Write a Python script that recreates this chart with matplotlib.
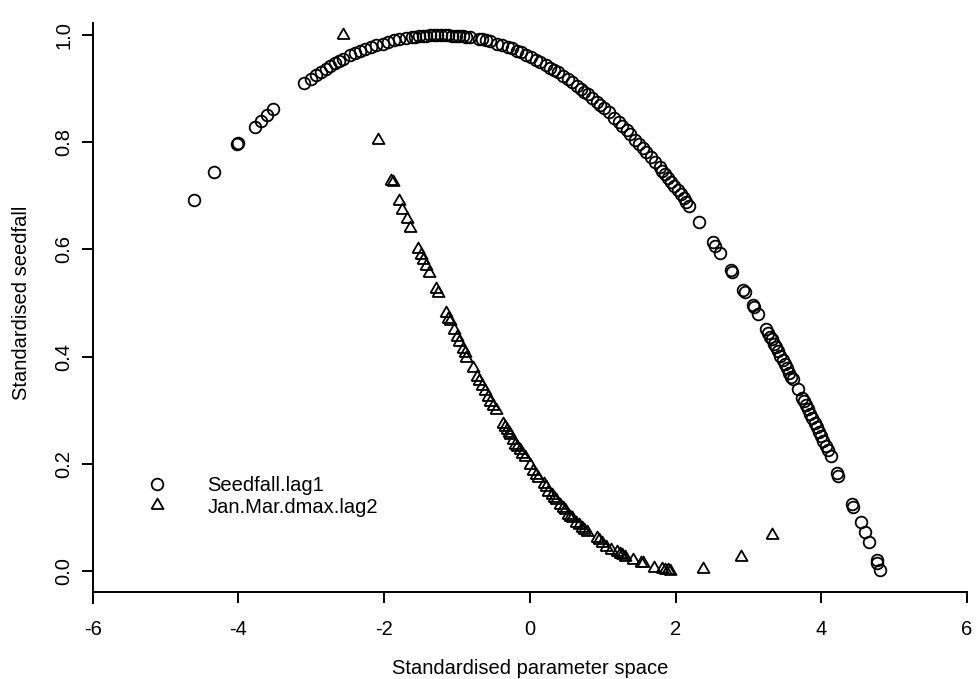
import numpy as np
import matplotlib
matplotlib.use("Agg")
import matplotlib.pyplot as plt

# Seedfall.lag1 (kruhy)
SEED_X = [-4.61, -4.33, -4.02, -4.00, -3.77, -3.69, -3.61, -3.52, -3.10, -3.00,
          -2.93, -2.87, -2.80, -2.74, -2.68, -2.62, -2.56, -2.47, -2.40, -2.33,
          -2.26, -2.18, -2.11, -2.02, -1.94, -1.86, -1.79, -1.70, -1.62, -1.57,
          -1.52, -1.47, -1.42, -1.37, -1.32, -1.27, -1.22, -1.17, -1.12, -1.07,
          -1.02, -0.97, -0.92, -0.87, -0.82, -0.70, -0.65, -0.60, -0.55, -0.45,
          -0.38, -0.30, -0.25, -0.18, -0.12, -0.05, 0.02, 0.08, 0.14, 0.22,
          0.28, 0.33, 0.38, 0.45, 0.52, 0.58, 0.65, 0.70, 0.75, 0.80,
          0.86, 0.92, 0.97, 1.02, 1.08, 1.15, 1.22, 1.27, 1.33, 1.38,
          1.45, 1.50, 1.55, 1.60, 1.66, 1.72, 1.78, 1.82, 1.86, 1.90,
          1.94, 1.98, 2.03, 2.07, 2.11, 2.15, 2.19, 2.32, 2.51, 2.54,
          2.61, 2.76, 2.78, 2.93, 2.95, 3.06, 3.08, 3.13, 3.24, 3.27,
          3.30, 3.32, 3.35, 3.38, 3.41, 3.44, 3.47, 3.50, 3.53, 3.56,
          3.59, 3.61, 3.68, 3.74, 3.76, 3.79, 3.82, 3.85, 3.88, 3.91,
          3.94, 3.97, 4.00, 4.03, 4.06, 4.09, 4.13, 4.21, 4.23, 4.42,
          4.44, 4.54, 4.60, 4.66, 4.76, 4.77, 4.81]
SEED_Y = [0.692, 0.745, 0.796, 0.799, 0.828, 0.840, 0.850, 0.862, 0.910, 0.918,
          0.925, 0.931, 0.937, 0.942, 0.947, 0.952, 0.956, 0.962, 0.966, 0.970,
          0.974, 0.978, 0.981, 0.984, 0.987, 0.990, 0.992, 0.994, 0.996, 0.997,
          0.998, 0.999, 0.999, 1.000, 1.000, 1.000, 1.000, 1.000, 1.000, 0.999,
          0.999, 0.998, 0.998, 0.997, 0.996, 0.993, 0.992, 0.990, 0.988, 0.984,
          0.981, 0.977, 0.975, 0.971, 0.968, 0.963, 0.959, 0.954, 0.950, 0.944,
          0.939, 0.935, 0.931, 0.924, 0.918, 0.912, 0.905, 0.900, 0.894, 0.889,
          0.882, 0.875, 0.869, 0.863, 0.856, 0.846, 0.837, 0.830, 0.822, 0.815,
          0.805, 0.797, 0.790, 0.782, 0.772, 0.763, 0.753, 0.746, 0.740, 0.733,
          0.726, 0.719, 0.711, 0.703, 0.696, 0.688, 0.681, 0.652, 0.613, 0.606,
          0.594, 0.562, 0.558, 0.525, 0.520, 0.496, 0.492, 0.479, 0.451, 0.444,
          0.437, 0.432, 0.424, 0.417, 0.410, 0.402, 0.394, 0.386, 0.378, 0.370,
          0.362, 0.358, 0.340, 0.323, 0.318, 0.310, 0.302, 0.293, 0.285, 0.277,
          0.268, 0.260, 0.251, 0.243, 0.234, 0.225, 0.214, 0.183, 0.178, 0.125,
          0.120, 0.092, 0.073, 0.054, 0.020, 0.015, 0.002]

# Jan.Mar.dmax.lag2 (trojuhelniky)
DMAX_X = [-2.57, -2.09, -1.90, -1.88, -1.79, -1.75, -1.69, -1.64, -1.53, -1.50,
          -1.47, -1.43, -1.38, -1.29, -1.26, -1.15, -1.12, -1.10, -1.04, -1.00,
          -0.97, -0.92, -0.89, -0.87, -0.78, -0.73, -0.70, -0.66, -0.62, -0.58,
          -0.54, -0.51, -0.47, -0.37, -0.34, -0.32, -0.29, -0.27, -0.23, -0.20,
          -0.18, -0.14, -0.11, -0.07, 0.00, 0.04, 0.08, 0.11, 0.19, 0.22,
          0.25, 0.30, 0.33, 0.36, 0.41, 0.45, 0.48, 0.52, 0.55, 0.58,
          0.64, 0.67, 0.71, 0.75, 0.78, 0.92, 0.95, 0.99, 1.05, 1.12,
          1.19, 1.24, 1.27, 1.30, 1.42, 1.52, 1.55, 1.71, 1.81, 1.86,
          1.90, 1.93, 2.38, 2.90, 3.33]
DMAX_Y = [1.000, 0.804, 0.728, 0.725, 0.690, 0.674, 0.657, 0.640, 0.601, 0.590,
          0.580, 0.569, 0.556, 0.526, 0.518, 0.481, 0.470, 0.466, 0.449, 0.437,
          0.428, 0.414, 0.406, 0.398, 0.378, 0.362, 0.354, 0.345, 0.335, 0.325,
          0.315, 0.307, 0.300, 0.275, 0.268, 0.263, 0.258, 0.253, 0.244, 0.236,
          0.231, 0.225, 0.219, 0.212, 0.198, 0.186, 0.180, 0.174, 0.162, 0.157,
          0.148, 0.142, 0.137, 0.132, 0.123, 0.118, 0.113, 0.105, 0.101, 0.098,
          0.090, 0.085, 0.080, 0.076, 0.072, 0.062, 0.057, 0.052, 0.045, 0.039,
          0.035, 0.031, 0.029, 0.026, 0.020, 0.015, 0.014, 0.006, 0.004, 0.002,
          0.001, 0.000, 0.003, 0.027, 0.068]

X_TICKS = [-6, -4, -2, 0, 2, 4, 6]
Y_TICKS = [0.0, 0.2, 0.4, 0.6, 0.8, 1.0]
Y_TICKLABELS = ["0.0", "0.2", "0.4", "0.6", "0.8", "1.0"]

W, H = 977, 679
plt.rcParams['font.family'] = ['Liberation Sans', 'DejaVu Sans']
FS = 14.5

fig = plt.figure(figsize=(W / 100, H / 100), dpi=100)
# osy v pixelech: vlevo 92.7, vpravo 977, nahore 10, dole 610
ax = fig.add_axes([92.7 / W, (H - 610) / H, (W - 92.7) / W, 600 / H])
ax.set_xlim(-6, 6.138)
ax.set_ylim((571 - 610) / 536, (571 - 10) / 536)

# rovnostranny trojuhelnik jako pch=2
tri = [(-1, -0.577), (1, -0.577), (0, 1.155), (-1, -0.577)]

ax.plot(SEED_X, SEED_Y, linestyle='none', marker='o', ms=8.4,
        mfc='none', mec='black', mew=1.3, label="Seedfall.lag1")
ax.plot(DMAX_X, DMAX_Y, linestyle='none', marker=tri, ms=10,
        mfc='none', mec='black', mew=1.3, label="Jan.Mar.dmax.lag2")

# osy ve stylu R
for s in ['top', 'right']:
    ax.spines[s].set_visible(False)
ax.spines['left'].set_bounds((571 - 603) / 536, (571 - 23) / 536)
ax.spines['bottom'].set_position(('data', (571 - 592) / 536))
ax.spines['bottom'].set_bounds(-6, 6)
for s in ['left', 'bottom']:
    ax.spines[s].set_linewidth(1.4)

ax.set_xticks(X_TICKS)
ax.set_xticklabels([str(v) for v in X_TICKS])
ax.set_yticks(Y_TICKS)
ax.set_yticklabels(Y_TICKLABELS, rotation=90, va='center')
ax.tick_params(axis='both', direction='out', length=7.9, width=1.4,
               labelsize=FS, color='black')
ax.tick_params(axis='x', pad=12)
ax.tick_params(axis='y', pad=6)

fig.text(530 / W, 1 - 668 / H, "Standardised parameter space",
         ha='center', va='center', fontsize=FS)
fig.text(22 / W, 1 - 303 / H, "Standardised seedfall",
         ha='center', va='center', rotation=90, fontsize=FS)

ax.legend(loc='center left', bbox_to_anchor=(129 / W, 1 - 496.5 / H),
          bbox_transform=fig.transFigure, frameon=False, fontsize=FS,
          handlelength=2.0, handletextpad=1.5, labelspacing=0.1,
          borderpad=0.4, borderaxespad=0, numpoints=1)

fig.savefig("out.png", dpi=100)
